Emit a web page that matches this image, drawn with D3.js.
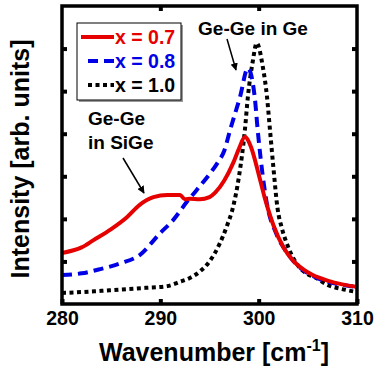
<!DOCTYPE html>
<html>
<head>
<meta charset="utf-8">
<script src="https://cdn.jsdelivr.net/npm/d3@7"></script>
<style>
  body { margin: 0; background: #fff; }
  text { font-family: "Liberation Sans", Arial, sans-serif; font-weight: bold; }
</style>
</head>
<body>
<svg id="chart" width="374" height="372"></svg>
<script>
// wavenumber (cm-1) and intensity (arb. units)
const wnRed = [280, 282, 283.2, 285, 286.6, 287.9, 289.3, 290.7, 292, 292.5, 293, 294, 295, 295.6, 296.5, 297.4, 298, 298.6, 299.2, 300, 300.6, 301.5, 302.5, 303.5, 304.5, 305.5, 307, 308.5, 310];
const red   = [1.20, 1.33, 1.50, 1.76, 2.04, 2.33, 2.51, 2.56, 2.56, 2.46, 2.47, 2.46, 2.51, 2.62, 2.90, 3.31, 3.65, 3.92, 3.70, 3.05, 2.51, 1.85, 1.34, 1.02, 0.82, 0.68, 0.55, 0.46, 0.40];

const wnBlue = [280, 282, 283.9, 286, 287.9, 290, 291.3, 292.7, 293.7, 295, 295.8, 296.5, 297.1, 298.1, 298.9, 299.6, 299.9, 300.9, 301.7, 302.5, 303.5, 304.5, 305.5, 307, 308.5, 310];
const blue   = [0.68, 0.72, 0.82, 0.96, 1.15, 1.67, 1.97, 2.40, 2.68, 3.05, 3.31, 3.60, 4.09, 4.86, 5.54, 4.86, 4.09, 2.28, 1.70, 1.34, 1.02, 0.80, 0.66, 0.52, 0.45, 0.40];

const wnBlack = [280, 282, 284, 286.6, 288.5, 290.7, 292, 293, 294, 295, 296, 296.8, 297.4, 298, 298.6, 298.9, 299.4, 299.8, 300.4, 300.85, 301.15, 301.5, 301.9, 302.4, 303, 304, 305, 305.7, 307, 308.5, 310];
const black   = [0.26, 0.28, 0.31, 0.35, 0.38, 0.42, 0.52, 0.61, 0.76, 1.00, 1.40, 1.85, 2.28, 3.00, 4.09, 4.86, 5.70, 6.13, 5.60, 4.86, 4.09, 3.20, 2.28, 1.75, 1.34, 0.90, 0.70, 0.63, 0.45, 0.35, 0.28];

const xTicks = [280, 290, 300, 310];
const yTicks = [1, 2, 3, 4, 5, 6];
const legendLabels = ["x = 0.7", "x = 0.8", "x = 1.0"];

const svg = d3.select("#chart");
const mLeft = 62, mRight = 357, mTop = 6, mBottom = 304;

const x = d3.scaleLinear().domain([280, 310]).range([mLeft, mRight]);
const y = d3.scaleLinear().domain([0, 7]).range([mBottom, mTop]);

// clip so lines stay inside the frame
svg.append("defs").append("clipPath").attr("id", "clip")
  .append("rect").attr("x", mLeft).attr("y", mTop)
  .attr("width", mRight - mLeft).attr("height", mBottom - mTop);

const line = d3.line().x(d => x(d[0])).y(d => y(d[1])).curve(d3.curveMonotoneX);

const series = [
  { wn: wnBlack, v: black, color: "#000", dash: "4,3.5", width: 4 },
  { wn: wnBlue, v: blue, color: "#0000e6", dash: "10,6", width: 4 },
  { wn: wnRed, v: red, color: "#e60000", dash: null, width: 4 }
];

const plot = svg.append("g").attr("clip-path", "url(#clip)");
series.forEach(s => {
  plot.append("path")
    .datum(d3.zip(s.wn, s.v))
    .attr("d", line)
    .attr("fill", "none")
    .attr("stroke", s.color)
    .attr("stroke-width", s.width)
    .attr("stroke-dasharray", s.dash);
});

// axes with inward ticks on all four sides
svg.append("g").attr("transform", `translate(0,${mBottom})`)
  .call(d3.axisBottom(x).tickValues(xTicks).tickSize(-5).tickPadding(7).tickFormat(d3.format("d")))
  .call(g => g.select(".domain").remove())
  .call(g => g.selectAll("line").attr("stroke-width", 4))
  .call(g => g.selectAll("text").attr("font-size", 19.5).attr("fill", "#000")
    .attr("font-family", "Liberation Sans, Arial, sans-serif").attr("font-weight", "bold"));

svg.append("g").attr("transform", `translate(0,${mTop})`)
  .call(d3.axisTop(x).tickValues(xTicks.slice(1, 3)).tickSize(-5).tickFormat(""))
  .call(g => g.select(".domain").remove())
  .call(g => g.selectAll("line").attr("stroke-width", 4));

svg.append("g").attr("transform", `translate(${mLeft},0)`)
  .call(d3.axisLeft(y).tickValues(yTicks).tickSize(-5).tickFormat(""))
  .call(g => g.select(".domain").remove())
  .call(g => g.selectAll("line").attr("stroke-width", 4));

svg.append("g").attr("transform", `translate(${mRight},0)`)
  .call(d3.axisRight(y).tickValues(yTicks).tickSize(-5).tickFormat(""))
  .call(g => g.select(".domain").remove())
  .call(g => g.selectAll("line").attr("stroke-width", 4));

svg.append("rect")
  .attr("x", mLeft).attr("y", mTop)
  .attr("width", mRight - mLeft).attr("height", mBottom - mTop)
  .attr("fill", "none").attr("stroke", "#000").attr("stroke-width", 3.5);

// axis titles
const xt = svg.append("text")
  .attr("x", 214).attr("y", 361)
  .attr("text-anchor", "middle").attr("font-size", 25);
xt.append("tspan").text("Wavenumber [cm");
xt.append("tspan").attr("dy", -10).attr("font-size", 16).text("-1");
xt.append("tspan").attr("dy", 10).text("]");

svg.append("text")
  .attr("transform", "translate(29,159) rotate(-90)")
  .attr("text-anchor", "middle").attr("font-size", 25)
  .text("Intensity [arb. units]");

// legend
const lg = svg.append("g");
lg.append("rect").attr("x", 79).attr("y", 25).attr("width", 104).attr("height", 77).attr("fill", "#999");
lg.append("rect").attr("x", 77).attr("y", 23).attr("width", 104).attr("height", 77)
  .attr("fill", "#fff").attr("stroke", "#000").attr("stroke-width", 1);
[series[2], series[1], series[0]].forEach((s, i) => {
  const yy = 37 + i * 24;
  lg.append("line")
    .attr("x1", i === 0 ? 81 : 88).attr("x2", 114)
    .attr("y1", yy).attr("y2", yy)
    .attr("stroke", s.color).attr("stroke-width", 4)
    .attr("stroke-dasharray", s.dash);
  lg.append("text")
    .attr("x", 115).attr("y", yy + 7)
    .attr("font-size", 19.5).attr("fill", s.color)
    .text(legendLabels[i]);
});

// annotations
svg.append("defs").append("marker")
  .attr("id", "arrow").attr("viewBox", "0 0 10 10")
  .attr("refX", 9).attr("refY", 5)
  .attr("markerWidth", 5).attr("markerHeight", 5)
  .attr("orient", "auto")
  .append("path").attr("d", "M0,0 L10,5 L0,10 Z").attr("fill", "#000");

svg.append("text").attr("x", 253).attr("y", 35).attr("text-anchor", "middle")
  .attr("font-size", 19).text("Ge-Ge in Ge");
svg.append("line").attr("x1", 227).attr("y1", 39).attr("x2", 236).attr("y2", 70)
  .attr("stroke", "#000").attr("stroke-width", 1.5).attr("marker-end", "url(#arrow)");

svg.append("text").attr("x", 88).attr("y", 125).attr("font-size", 19).text("Ge-Ge");
svg.append("text").attr("x", 88).attr("y", 149).attr("font-size", 19).text("in SiGe");
svg.append("line").attr("x1", 123).attr("y1", 158).attr("x2", 144).attr("y2", 193)
  .attr("stroke", "#000").attr("stroke-width", 1.5).attr("marker-end", "url(#arrow)");
</script>
</body>
</html>
